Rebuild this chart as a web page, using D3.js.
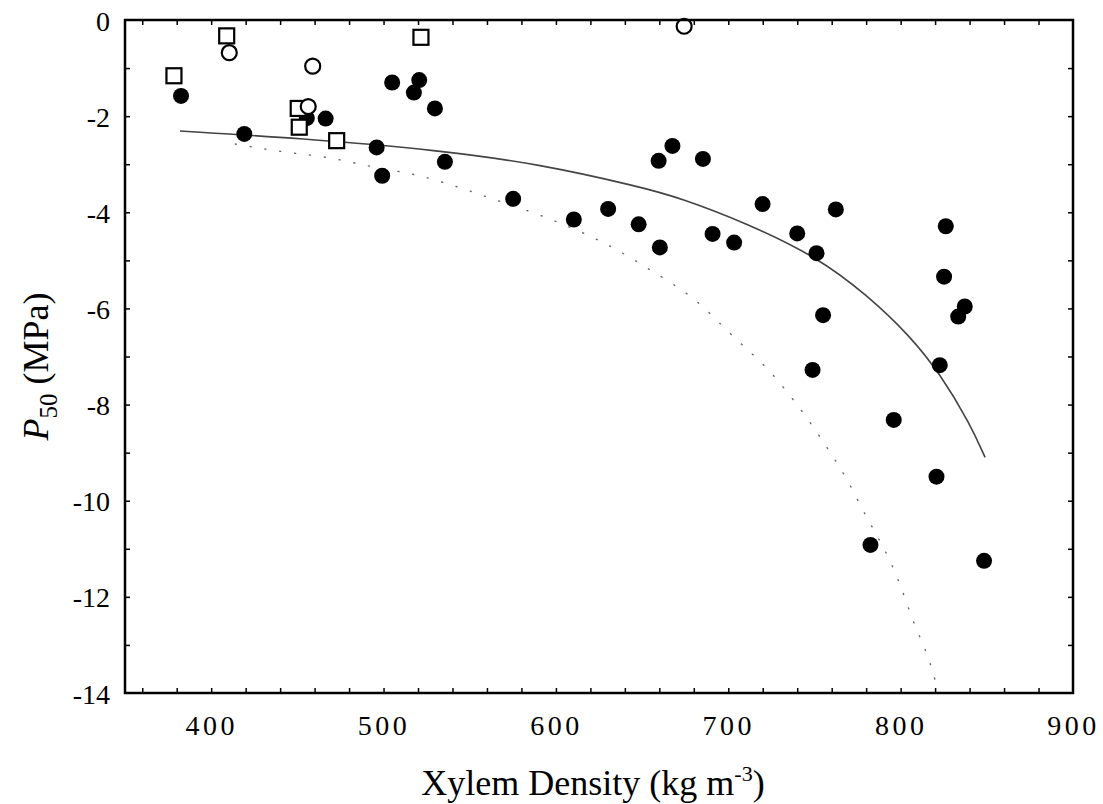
<!DOCTYPE html>
<html lang="en">
<head>
<meta charset="UTF-8">
<title>P50 vs Xylem Density</title>
<script src="https://d3js.org/d3.v7.min.js"></script>
<style>
  body { margin: 0; background: #fff; }
  text { font-family: "Liberation Serif", "Times New Roman", serif; fill: #000; }
</style>
</head>
<body>
<svg id="chart" width="1103" height="804"></svg>
<script>
// filled circles [density, P50]
const filledPts = [
  [382.5, -1.58], [419.2, -2.37], [455.5, -2.04], [466.4, -2.05], [496.0, -2.65],
  [499.2, -3.24], [505.0, -1.30], [517.6, -1.51], [520.7, -1.25], [529.8, -1.84],
  [535.6, -2.95], [575.2, -3.72], [610.4, -4.15], [630.3, -3.93], [648.0, -4.25],
  [659.6, -2.93], [660.3, -4.73], [667.6, -2.62], [685.3, -2.89], [690.9, -4.45],
  [703.4, -4.63], [719.9, -3.83], [740.0, -4.44], [748.9, -7.28], [751.2, -4.85],
  [755.0, -6.14], [762.4, -3.94], [782.5, -10.92], [796.0, -8.32], [820.8, -9.50],
  [822.7, -7.18], [825.2, -5.34], [826.2, -4.29], [833.4, -6.17], [837.2, -5.96],
  [848.4, -11.25]
];
// open squares
const squarePts = [
  [378.4, -1.16], [409.0, -0.33], [450.5, -1.84], [451.1, -2.23], [472.8, -2.51], [521.7, -0.36]
];
// open circles
const circlePts = [
  [410.5, -0.68], [458.9, -0.96], [456.3, -1.80], [674.4, -0.13]
];
// solid fitted curve
const fitSolid = [
  [381.9, -2.31], [451.5, -2.46], [532.8, -2.71], [590.8, -3.00], [648.8, -3.47],
  [672.0, -3.70], [710.9, -4.23], [751.5, -4.93], [780.5, -5.72], [805.4, -6.57],
  [822.9, -7.36], [840.3, -8.40], [849.0, -9.10]
];
// dotted curve
const fitDotted = [
  [414, -2.58], [441.6, -2.74], [467.2, -2.86], [493.3, -3.05], [518.2, -3.22],
  [568.1, -3.78], [593.6, -4.10], [635.2, -4.78], [651.6, -5.13], [685.1, -5.96],
  [700.5, -6.50], [726, -7.39], [746, -8.30], [758.3, -8.95], [768.2, -9.52],
  [777.3, -10.14], [798.6, -11.65], [807.3, -12.50], [817.9, -13.47], [820.4, -13.78]
];
const xTicks = [400, 500, 600, 700, 800, 900];
const yTicks = [0, -2, -4, -6, -8, -10, -12, -14];

const W = 1103, H = 804;
const m = { left: 125, top: 20, right: 30, bottom: 111 };
const svg = d3.select("#chart");

const x = d3.scaleLinear().domain([350, 900]).range([m.left, W - m.right]);
const y = d3.scaleLinear().domain([-14, 0]).range([H - m.bottom, m.top]);

const xMinor = d3.range(360, 900, 20);
const yMinor = d3.range(-13, 0, 1);

// curves
const dotLine = d3.line().x(d => x(d[0])).y(d => y(d[1])).curve(d3.curveMonotoneX);
const fitLine = d3.line().x(d => x(d[0])).y(d => y(d[1])).curve(d3.curveBasis);
svg.append("path").datum(fitDotted).attr("d", dotLine)
  .attr("fill", "none").attr("stroke", "#666").attr("stroke-width", 1.4)
  .attr("stroke-dasharray", "1 14").attr("stroke-linecap", "round");
svg.append("path").datum(fitSolid).attr("d", fitLine)
  .attr("fill", "none").attr("stroke", "#444").attr("stroke-width", 1.6);

// points
svg.append("g").selectAll("circle").data(filledPts).join("circle")
  .attr("cx", d => x(d[0])).attr("cy", d => y(d[1])).attr("r", 8).attr("fill", "#000");
svg.append("g").selectAll("rect").data(squarePts).join("rect")
  .attr("x", d => x(d[0]) - 7.5).attr("y", d => y(d[1]) - 7.5)
  .attr("width", 15).attr("height", 15)
  .attr("fill", "#fff").attr("stroke", "#000").attr("stroke-width", 2.2);
svg.append("g").selectAll("circle").data(circlePts).join("circle")
  .attr("cx", d => x(d[0])).attr("cy", d => y(d[1])).attr("r", 7.5)
  .attr("fill", "#fff").attr("stroke", "#000").attr("stroke-width", 2.2);

// axes: inward ticks on all sides
function tickStyle(g) {
  g.select(".domain").remove();
  g.selectAll("line").attr("stroke", "#000").attr("stroke-width", 1.5);
}
svg.append("g").attr("transform", `translate(0,${y(-14)})`)
  .call(d3.axisBottom(x).tickValues(xMinor).tickSize(-5).tickFormat(""))
  .call(tickStyle);
svg.append("g").attr("transform", `translate(0,${y(0)})`)
  .call(d3.axisTop(x).tickValues(xMinor).tickSize(-5).tickFormat(""))
  .call(tickStyle);
svg.append("g").attr("transform", `translate(${x(350)},0)`)
  .call(d3.axisLeft(y).tickValues(yMinor).tickSize(-5).tickFormat(""))
  .call(tickStyle);
svg.append("g").attr("transform", `translate(${x(900)},0)`)
  .call(d3.axisRight(y).tickValues(yMinor).tickSize(-5).tickFormat(""))
  .call(tickStyle);

// tick labels (plain hyphen minus, as in the original)
const xAx = svg.append("g").attr("transform", `translate(0,${y(-14)})`)
  .call(d3.axisBottom(x).tickValues(xTicks).tickSize(0).tickFormat(d => String(d)));
xAx.select(".domain").remove();
xAx.selectAll("text").attr("y", 42).attr("dy", 0)
  .style("font-family", '"Liberation Serif", serif').style("font-size", "28px")
  .style("letter-spacing", "3.5px").attr("fill", "#000");

const yAx = svg.append("g").attr("transform", `translate(${x(350)},0)`)
  .call(d3.axisLeft(y).tickValues(yTicks).tickSize(0).tickPadding(15).tickFormat(d => String(d)));
yAx.select(".domain").remove();
yAx.selectAll("text").attr("dy", "0.36em")
  .style("font-family", '"Liberation Serif", serif').style("font-size", "28px").attr("fill", "#000");

// frame
svg.append("rect").attr("x", x(350)).attr("y", y(0))
  .attr("width", x(900) - x(350)).attr("height", y(-14) - y(0))
  .attr("fill", "none").attr("stroke", "#000").attr("stroke-width", 2.5);

// axis titles
const xt = svg.append("text").attr("x", (x(350) + x(900)) / 2 - 6).attr("y", 795)
  .attr("text-anchor", "middle").style("font-size", "36px");
xt.append("tspan").text("Xylem Density (kg m");
xt.append("tspan").text("-3").attr("dy", -14).style("font-size", "22px");
xt.append("tspan").text(")").attr("dy", 14);

const yt = svg.append("text")
  .attr("transform", `translate(48,${(y(0) + y(-14)) / 2 + 10}) rotate(-90)`)
  .attr("text-anchor", "middle").style("font-size", "36px");
yt.append("tspan").text("P").style("font-style", "italic");
yt.append("tspan").text("50").attr("dy", 9).style("font-size", "25px");
yt.append("tspan").text(" (MPa)").attr("dy", -9);
</script>
</body>
</html>
